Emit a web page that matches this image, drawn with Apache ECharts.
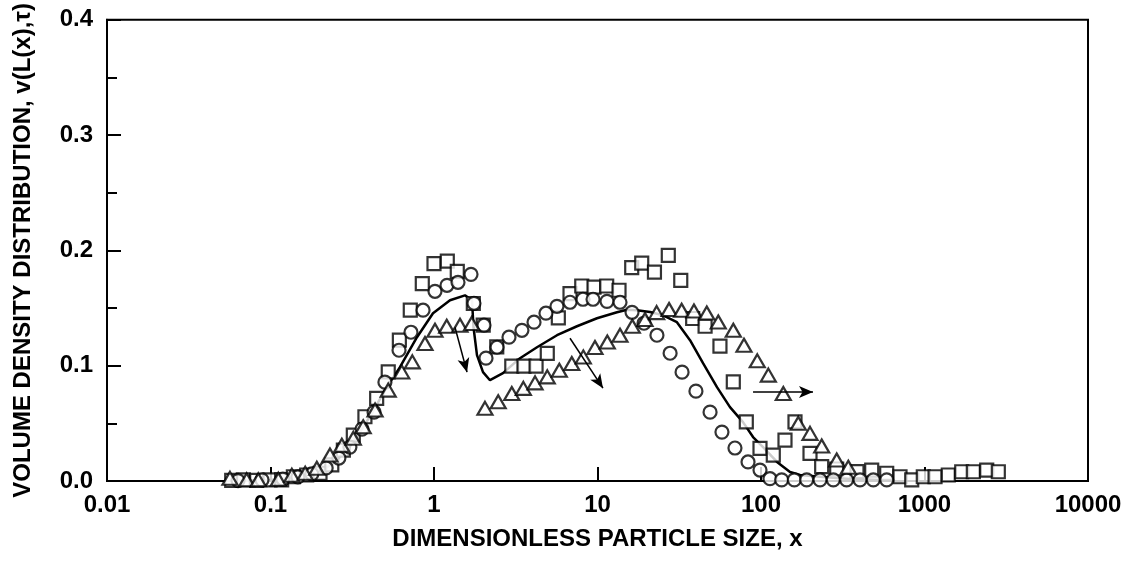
<!DOCTYPE html>
<html>
<head>
<meta charset="utf-8">
<title>Volume density distribution</title>
<script src="https://cdn.jsdelivr.net/npm/echarts@6/dist/echarts.min.js"></script>
<style>
  html, body { margin: 0; padding: 0; background: #fff; }
  #chart { width: 1127px; height: 561px; }
</style>
</head>
<body>
<div id="chart"></div>
<script>
// 数据: 近似值
var xTicks = [0.01, 0.1, 1, 10, 100, 1000, 10000];

var circleX = [0.0633, 0.0887, 0.119, 0.147, 0.179, 0.219, 0.262, 0.306, 0.363, 0.43, 0.501, 0.611, 0.723, 0.857,
  1.014, 1.201, 1.402, 1.684, 1.756, 2.022, 2.08, 2.43, 2.875, 3.45, 4.09, 4.84, 5.65, 6.79, 8.15, 9.39,
  11.43, 13.73, 16.26, 19.25, 23.1, 27.8, 32.9, 40.0, 48.8, 57.7, 69.3, 83.3, 98.6, 113.5,
  133.8, 159.9, 190.3, 229.6, 276.9, 333.9, 403.2, 486.3, 587.3];
var circleY = [0.0004, 0.001, 0.0017, 0.0035, 0.0061, 0.0113, 0.0199, 0.0294, 0.045, 0.0597, 0.0857, 0.1134, 0.129, 0.1481,
  0.1645, 0.1697, 0.1723, 0.1792, 0.1541, 0.1351, 0.1065, 0.116, 0.1247, 0.1307, 0.1377, 0.1455, 0.1515, 0.155, 0.1576, 0.1576,
  0.1558, 0.155, 0.1463, 0.1368, 0.1264, 0.1108, 0.0944, 0.0779, 0.0597, 0.0424, 0.0286, 0.0165, 0.0095, 0.002,
  0.001, 0.001, 0.001, 0.001, 0.001, 0.001, 0.001, 0.001, 0.001];

var squareX = [0.0579, 0.0682, 0.0823, 0.0993, 0.117, 0.138, 0.1665, 0.2008, 0.237, 0.279, 0.321, 0.378, 0.446, 0.525,
  0.614, 0.716, 0.848, 1.0, 1.206, 1.388, 1.74, 2.0, 2.42, 2.99, 3.55, 4.21, 4.93, 5.76, 6.79, 8.01, 9.52,
  11.38, 13.54, 16.19, 18.64, 22.3, 27.1, 32.3, 38.2, 45.5, 56.1, 67.7, 81.3, 98.6, 118.9, 140.2, 161.4,
  199.4, 235, 290.4, 386.5, 475.4, 587.3, 708.3, 835.2, 983.3, 1160, 1398, 1689, 1989, 2402, 2828];
var squareY = [0.0005, 0.001, 0.0005, 0.001, 0.001, 0.0037, 0.0052, 0.0067, 0.0139, 0.0268, 0.0398, 0.0557, 0.0716, 0.0946,
  0.1221, 0.1481, 0.1712, 0.1885, 0.1907, 0.1818, 0.1539, 0.1351, 0.1163, 0.0996, 0.0996, 0.0996, 0.1106, 0.1414, 0.1625, 0.1691, 0.1682,
  0.1691, 0.1654, 0.185, 0.189, 0.1812, 0.1957, 0.174, 0.1409, 0.1342, 0.1169, 0.086, 0.0513, 0.0283, 0.0225, 0.0355, 0.0513,
  0.024, 0.0124, 0.0104, 0.0082, 0.0095, 0.0067, 0.0037, 0.001, 0.0037, 0.0037, 0.0052, 0.008, 0.008, 0.0095, 0.008];

var triangleX = [0.0565, 0.0715, 0.0842, 0.1116, 0.135, 0.163, 0.192, 0.231, 0.273, 0.321, 0.369, 0.436, 0.525, 0.635,
  0.737, 0.881, 1.014, 1.196, 1.442, 1.70, 2.05, 2.47, 2.99, 3.52, 4.15, 4.93, 5.84, 6.96, 8.19, 9.65,
  11.48, 13.73, 16.33, 19.52, 23.0, 27.4, 32.7, 38.9, 46.6, 54.8, 67.7, 78.7, 94.9, 110.9, 136.9,
  169.1, 199.4, 235.1, 290.4, 342];
var triangleY = [0.0023, 0.001, 0.001, 0.0015, 0.005, 0.0067, 0.011, 0.0225, 0.031, 0.037, 0.047, 0.0615, 0.0788, 0.0946,
  0.1033, 0.1192, 0.1307, 0.1342, 0.1351, 0.1365, 0.063, 0.0687, 0.0759, 0.0803, 0.0851, 0.0903, 0.0961, 0.1019, 0.1076, 0.1158,
  0.1206, 0.1264, 0.1342, 0.14, 0.146, 0.1487, 0.148, 0.1474, 0.1457, 0.1379, 0.1307, 0.1177, 0.1042, 0.0918, 0.0759,
  0.05, 0.0413, 0.0303, 0.0182, 0.0119];

// 模型曲线
var lineX = [0.0565, 0.0993, 0.1515, 0.2008, 0.248, 0.298, 0.353, 0.418, 0.501, 0.619, 0.787, 0.986, 1.253, 1.547,
  1.708, 1.744, 1.832, 1.994, 2.2, 2.642, 3.357, 4.266, 5.654, 7.49, 9.93, 13.16, 15.15, 17.44, 20.95, 25.2,
  30.6, 36.8, 44.2, 53.8, 64.6, 77.6, 89.4, 102.9, 125.3, 150.5, 173.2, 239.4, 350.3, 534.4];
var lineY = [0, 0.0009, 0.0035, 0.0078, 0.0165, 0.0277, 0.0424, 0.0589, 0.0788, 0.0987, 0.1247, 0.1455, 0.1567, 0.161,
  0.1567, 0.1333, 0.1091, 0.0944, 0.0874, 0.0935, 0.1065, 0.116, 0.1264, 0.1342, 0.1411, 0.1463, 0.1485, 0.148, 0.1466, 0.1437,
  0.1377, 0.1221, 0.1022, 0.0814, 0.0641, 0.0511, 0.0381, 0.0294, 0.0165, 0.0078, 0.0052, 0.0035, 0.0017, 0.0009];

// 箭头 [起点x, 起点y, 终点x, 终点y]
var arrows = [
  [1.344, 0.1333, 1.592, 0.0944],
  [6.79, 0.1238, 10.8, 0.0805],
  [89.4, 0.0771, 208, 0.0771]
];

function pairs(xs, ys) {
  return xs.map(function (x, i) { return [x, ys[i]]; });
}

var font = '"Liberation Sans", Arial, sans-serif';
var markerStyle = { color: '#fff', borderColor: '#000', borderWidth: 2.2 };

var myChart = echarts.init(document.getElementById('chart'));
myChart.setOption({
  animation: false,
  backgroundColor: '#fff',
  grid: {
    left: 107, right: 39, top: 19, bottom: 80,
    show: true, borderColor: '#000', borderWidth: 2
  },
  xAxis: {
    type: 'log',
    logBase: 10,
    min: 0.01,
    max: 10000,
    name: 'DIMENSIONLESS PARTICLE SIZE, x',
    nameLocation: 'middle',
    nameGap: 46,
    nameTextStyle: { fontFamily: font, fontSize: 24, fontWeight: 'bold', color: '#000' },
    axisLine: { lineStyle: { color: '#000', width: 2 } },
    axisTick: { inside: true, length: 14, lineStyle: { color: '#000', width: 2 } },
    axisLabel: {
      fontFamily: font, fontSize: 24, fontWeight: 'bold', color: '#000', margin: 12,
      formatter: function (v) {
        var best = xTicks.reduce(function (a, b) { return Math.abs(Math.log10(b) - Math.log10(v)) < Math.abs(Math.log10(a) - Math.log10(v)) ? b : a; });
        return String(best);
      }
    },
    splitLine: { show: false }
  },
  yAxis: {
    type: 'value',
    min: 0,
    max: 0.4,
    interval: 0.1,
    name: 'VOLUME DENSITY DISTRIBUTION, v(L(x),τ)',
    nameLocation: 'middle',
    nameGap: 72,
    nameTextStyle: { fontFamily: font, fontSize: 24, fontWeight: 'bold', color: '#000' },
    axisLine: { show: true, lineStyle: { color: '#000', width: 2 } },
    axisTick: { show: true, inside: true, length: 14, lineStyle: { color: '#000', width: 2 } },
    minorTick: { show: true, splitNumber: 2, length: 10, lineStyle: { color: '#000', width: 2 } },
    axisLabel: {
      fontFamily: font, fontSize: 24, fontWeight: 'bold', color: '#000', margin: 14,
      formatter: function (v) { return v.toFixed(1); }
    },
    splitLine: { show: false }
  },
  series: [
    {
      name: 'model',
      type: 'line',
      data: pairs(lineX, lineY),
      showSymbol: false,
      lineStyle: { color: '#000', width: 2.5 },
      z: 1,
      markLine: {
        silent: true,
        symbol: ['none', 'arrow'],
        symbolSize: [9, 14],
        label: { show: false },
        lineStyle: { color: '#000', width: 1.5, type: 'solid' },
        data: arrows.map(function (a) {
          return [{ coord: [a[0], a[1]] }, { coord: [a[2], a[3]] }];
        })
      }
    },
    {
      name: 'circles',
      type: 'scatter',
      symbol: 'circle',
      symbolSize: 13,
      data: pairs(circleX, circleY),
      itemStyle: markerStyle,
      z: 3
    },
    {
      name: 'squares',
      type: 'scatter',
      symbol: 'rect',
      symbolSize: 13,
      data: pairs(squareX, squareY),
      itemStyle: markerStyle,
      z: 2
    },
    {
      name: 'triangles',
      type: 'scatter',
      symbol: 'triangle',
      symbolSize: [15, 13],
      data: pairs(triangleX, triangleY),
      itemStyle: markerStyle,
      z: 4
    }
  ]
});
</script>
</body>
</html>
